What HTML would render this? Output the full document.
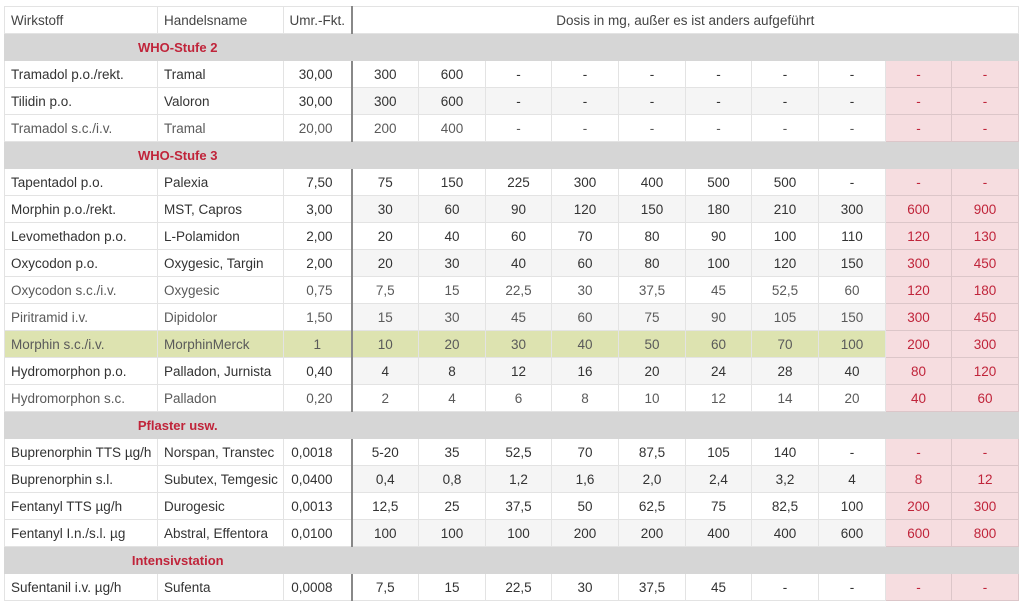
<!DOCTYPE html>
<html><head><meta charset="utf-8">
<style>
html,body{margin:0;padding:0;background:#fff;width:1023px;height:609px;overflow:hidden}
table{position:absolute;left:4px;top:6px;border-collapse:collapse;table-layout:fixed;width:1015px;font-family:"Liberation Sans",sans-serif;font-size:13.5px;color:#333}
td{height:26px;border:1px solid #e3e3e3;padding:0 6px;text-align:center;white-space:nowrap;overflow:hidden}
td.n{text-align:left}
td.f{text-align:right;padding-right:18px;border-right:2px solid #888}
tr.l td{color:#5a5a5a}
tr.s td{background:#d6d6d6;color:#c0243a;border-color:#d6d6d6;font-weight:bold;font-size:13px}
tr.s td.c{text-align:center}
tr.g td.v{background:#f5f5f5}
tr.m td{background:#dde3b0}
td.r{background:#f6dde0 !important;color:#c0243a !important;border-color:#dcc6c9}
tr.h td{color:#444}
</style></head><body>
<table>
<colgroup><col style="width:153px"><col style="width:126px"><col style="width:68px">
<col style="width:67px"><col style="width:67px"><col style="width:66px"><col style="width:67px"><col style="width:67px"><col style="width:66px"><col style="width:67px"><col style="width:67px"><col style="width:66px"><col style="width:67px"></colgroup>
<tr class="h"><td class="n">Wirkstoff</td><td class="n">Handelsname</td><td class="f" style="text-align:center;padding:0">Umr.-Fkt.</td><td colspan="10">Dosis in mg, außer es ist anders aufgeführt</td></tr>
<tr class="s"><td colspan="3" class="c" style="border-right:2px solid #d6d6d6">WHO-Stufe 2</td><td colspan="10"></td></tr>
<tr><td class="n">Tramadol p.o./rekt.</td><td class="n">Tramal</td><td class="f">30,00</td><td class="v">300</td><td class="v">600</td><td class="v">-</td><td class="v">-</td><td class="v">-</td><td class="v">-</td><td class="v">-</td><td class="v">-</td><td class="r">-</td><td class="r">-</td></tr>
<tr class="g"><td class="n">Tilidin p.o.</td><td class="n">Valoron</td><td class="f">30,00</td><td class="v">300</td><td class="v">600</td><td class="v">-</td><td class="v">-</td><td class="v">-</td><td class="v">-</td><td class="v">-</td><td class="v">-</td><td class="r">-</td><td class="r">-</td></tr>
<tr class="l"><td class="n">Tramadol s.c./i.v.</td><td class="n">Tramal</td><td class="f">20,00</td><td class="v">200</td><td class="v">400</td><td class="v">-</td><td class="v">-</td><td class="v">-</td><td class="v">-</td><td class="v">-</td><td class="v">-</td><td class="r">-</td><td class="r">-</td></tr>
<tr class="s"><td colspan="3" class="c" style="border-right:2px solid #d6d6d6">WHO-Stufe 3</td><td colspan="10"></td></tr>
<tr><td class="n">Tapentadol p.o.</td><td class="n">Palexia</td><td class="f">7,50</td><td class="v">75</td><td class="v">150</td><td class="v">225</td><td class="v">300</td><td class="v">400</td><td class="v">500</td><td class="v">500</td><td class="v">-</td><td class="r">-</td><td class="r">-</td></tr>
<tr class="g"><td class="n">Morphin p.o./rekt.</td><td class="n">MST, Capros</td><td class="f">3,00</td><td class="v">30</td><td class="v">60</td><td class="v">90</td><td class="v">120</td><td class="v">150</td><td class="v">180</td><td class="v">210</td><td class="v">300</td><td class="r">600</td><td class="r">900</td></tr>
<tr><td class="n">Levomethadon p.o.</td><td class="n">L-Polamidon</td><td class="f">2,00</td><td class="v">20</td><td class="v">40</td><td class="v">60</td><td class="v">70</td><td class="v">80</td><td class="v">90</td><td class="v">100</td><td class="v">110</td><td class="r">120</td><td class="r">130</td></tr>
<tr class="g"><td class="n">Oxycodon p.o.</td><td class="n">Oxygesic, Targin</td><td class="f">2,00</td><td class="v">20</td><td class="v">30</td><td class="v">40</td><td class="v">60</td><td class="v">80</td><td class="v">100</td><td class="v">120</td><td class="v">150</td><td class="r">300</td><td class="r">450</td></tr>
<tr class="l"><td class="n">Oxycodon s.c./i.v.</td><td class="n">Oxygesic</td><td class="f">0,75</td><td class="v">7,5</td><td class="v">15</td><td class="v">22,5</td><td class="v">30</td><td class="v">37,5</td><td class="v">45</td><td class="v">52,5</td><td class="v">60</td><td class="r">120</td><td class="r">180</td></tr>
<tr class="l g"><td class="n">Piritramid i.v.</td><td class="n">Dipidolor</td><td class="f">1,50</td><td class="v">15</td><td class="v">30</td><td class="v">45</td><td class="v">60</td><td class="v">75</td><td class="v">90</td><td class="v">105</td><td class="v">150</td><td class="r">300</td><td class="r">450</td></tr>
<tr class="l m"><td class="n">Morphin s.c./i.v.</td><td class="n">MorphinMerck</td><td class="f" style="text-align:center;padding:0">1</td><td>10</td><td>20</td><td>30</td><td>40</td><td>50</td><td>60</td><td>70</td><td>100</td><td class="r">200</td><td class="r">300</td></tr>
<tr class="g"><td class="n">Hydromorphon p.o.</td><td class="n">Palladon, Jurnista</td><td class="f">0,40</td><td class="v">4</td><td class="v">8</td><td class="v">12</td><td class="v">16</td><td class="v">20</td><td class="v">24</td><td class="v">28</td><td class="v">40</td><td class="r">80</td><td class="r">120</td></tr>
<tr class="l"><td class="n">Hydromorphon s.c.</td><td class="n">Palladon</td><td class="f">0,20</td><td class="v">2</td><td class="v">4</td><td class="v">6</td><td class="v">8</td><td class="v">10</td><td class="v">12</td><td class="v">14</td><td class="v">20</td><td class="r">40</td><td class="r">60</td></tr>
<tr class="s"><td colspan="3" class="c" style="border-right:2px solid #d6d6d6">Pflaster usw.</td><td colspan="10"></td></tr>
<tr><td class="n">Buprenorphin TTS µg/h</td><td class="n">Norspan, Transtec</td><td class="f">0,0018</td><td class="v">5-20</td><td class="v">35</td><td class="v">52,5</td><td class="v">70</td><td class="v">87,5</td><td class="v">105</td><td class="v">140</td><td class="v">-</td><td class="r">-</td><td class="r">-</td></tr>
<tr class="g"><td class="n">Buprenorphin s.l.</td><td class="n">Subutex, Temgesic</td><td class="f">0,0400</td><td class="v">0,4</td><td class="v">0,8</td><td class="v">1,2</td><td class="v">1,6</td><td class="v">2,0</td><td class="v">2,4</td><td class="v">3,2</td><td class="v">4</td><td class="r">8</td><td class="r">12</td></tr>
<tr><td class="n">Fentanyl TTS µg/h</td><td class="n">Durogesic</td><td class="f">0,0013</td><td class="v">12,5</td><td class="v">25</td><td class="v">37,5</td><td class="v">50</td><td class="v">62,5</td><td class="v">75</td><td class="v">82,5</td><td class="v">100</td><td class="r">200</td><td class="r">300</td></tr>
<tr class="g"><td class="n">Fentanyl I.n./s.l. µg</td><td class="n">Abstral, Effentora</td><td class="f">0,0100</td><td class="v">100</td><td class="v">100</td><td class="v">100</td><td class="v">200</td><td class="v">200</td><td class="v">400</td><td class="v">400</td><td class="v">600</td><td class="r">600</td><td class="r">800</td></tr>
<tr class="s"><td colspan="3" class="c" style="border-right:2px solid #d6d6d6">Intensivstation</td><td colspan="10"></td></tr>
<tr><td class="n">Sufentanil i.v. µg/h</td><td class="n">Sufenta</td><td class="f">0,0008</td><td class="v">7,5</td><td class="v">15</td><td class="v">22,5</td><td class="v">30</td><td class="v">37,5</td><td class="v">45</td><td class="v">-</td><td class="v">-</td><td class="r">-</td><td class="r">-</td></tr>
</table>
</body></html>
